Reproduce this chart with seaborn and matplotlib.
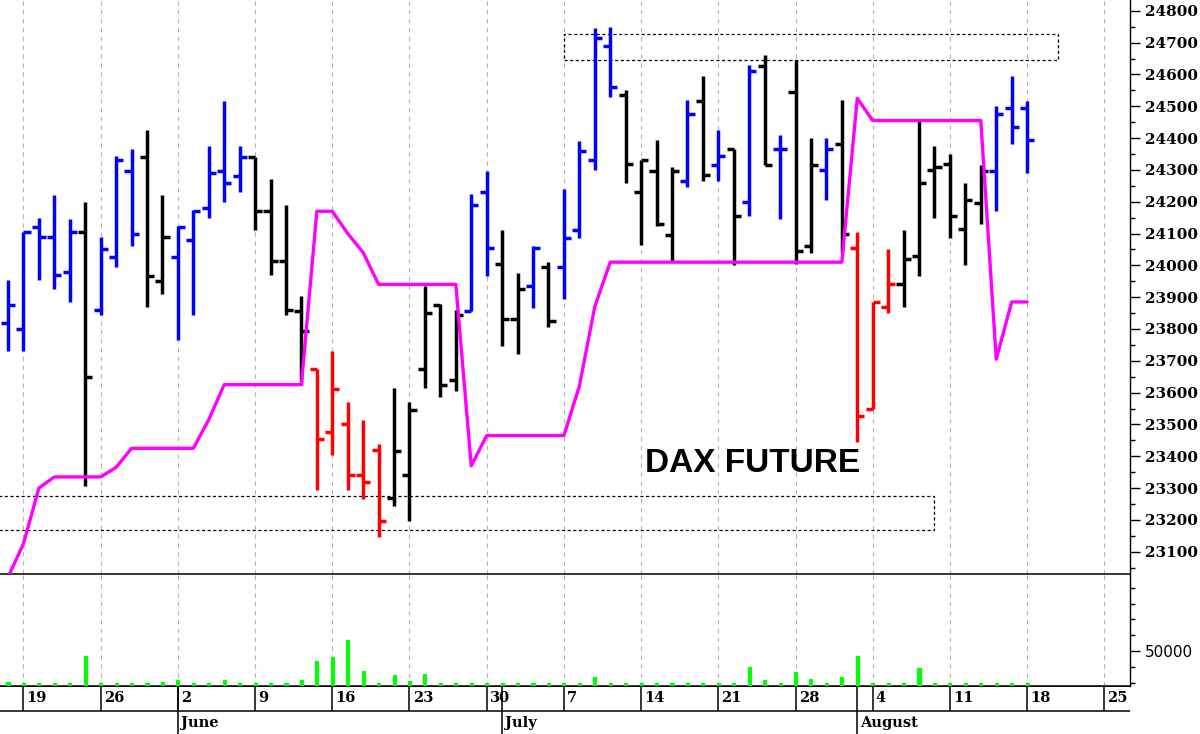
import numpy as np
import pandas as pd
import matplotlib
matplotlib.use("Agg")
import matplotlib.pyplot as plt
import seaborn as sns
from matplotlib.patches import Rectangle
from matplotlib.ticker import MultipleLocator, FixedLocator

# ---------------- data ----------------
dates = pd.bdate_range("2025-05-16", "2025-08-18")          # 67 trading days
axis_days = pd.bdate_range("2025-05-16", "2025-08-29")      # axis extends past data

opens = [23820, 23800, 24120, 24090, 23980, 24105, 23860, 24025, 24295, 24340,
         23950, 24025, 24080, 24180, 24295, 24280, 24340, 24170, 24015, 23855,
         23675, 23475, 23500, 23340, 23420, 23270, 23340, 23675, 23875, 23640,
         23855, 24230, 24005, 23830, 23935, 23995, 23995, 24110, 24330, 24690,
         24535, 24230, 24295, 24095, 24265, 24515, 24315, 24365, 24200, 24625,
         24365, 24545, 24060, 24300, 24380, 24055, 23550, 23870, 23940, 24030,
         24300, 24320, 24115, 24195, 24295, 24495, 24495]
highs = [23955, 24105, 24150, 24220, 24145, 24200, 24090, 24345, 24365, 24425,
         24220, 24125, 24175, 24375, 24515, 24375, 24340, 24270, 24190, 23905,
         23675, 23730, 23570, 23515, 23440, 23615, 23570, 23935, 23880, 23860,
         24225, 24295, 24110, 23975, 24060, 24010, 24240, 24390, 24745, 24750,
         24550, 24330, 24395, 24310, 24520, 24595, 24425, 24365, 24630, 24660,
         24410, 24645, 24400, 24400, 24520, 24105, 23885, 24050, 24110, 24460,
         24375, 24350, 24260, 24315, 24500, 24595, 24515]
lows = [23730, 23730, 23955, 23925, 23885, 23305, 23845, 23995, 24060, 23870,
        23910, 23765, 23845, 24150, 24200, 24230, 24110, 23970, 23845, 23625,
        23295, 23405, 23295, 23265, 23145, 23245, 23195, 23615, 23585, 23605,
        23855, 23965, 23745, 23720, 23865, 23805, 23895, 24085, 24300, 24530,
        24260, 24065, 24125, 24015, 24245, 24265, 24265, 24000, 24155, 24315,
        24145, 24005, 24040, 24205, 24040, 23445, 23550, 23850, 23870, 23965,
        24150, 24085, 24000, 24130, 24170, 24380, 24290]
closes = [23875, 24105, 24090, 23970, 24105, 23650, 24050, 24330, 24100, 23965,
          24090, 24120, 24170, 24290, 24260, 24340, 24170, 24015, 23860, 23795,
          23455, 23610, 23340, 23320, 23195, 23415, 23545, 23850, 23625, 23845,
          24190, 24055, 23830, 23925, 24055, 23825, 24085, 24360, 24715, 24560,
          24320, 24330, 24130, 24295, 24475, 24285, 24345, 24155, 24610, 24315,
          24365, 24045, 24315, 24365, 24100, 23525, 23885, 23940, 24020, 24260,
          24310, 24155, 24205, 24295, 24475, 24435, 24395]
bar_colors = ["blue", "blue", "blue", "blue", "blue", "black", "blue", "blue", "blue", "black",
              "black", "blue", "blue", "blue", "blue", "blue", "black", "black", "black", "black",
              "red", "red", "red", "red", "red", "black", "black", "black", "black", "black",
              "blue", "blue", "black", "black", "blue", "black", "blue", "blue", "blue", "blue",
              "black", "black", "black", "black", "blue", "black", "blue", "black", "blue", "black",
              "blue", "black", "black", "blue", "black", "red", "red", "red", "black", "black",
              "black", "black", "black", "black", "blue", "blue", "blue"]
stop_line = [23020, 23125, 23300, 23335, 23335, 23335, 23335, 23365, 23425, 23425,
             23425, 23425, 23425, 23515, 23625, 23625, 23625, 23625, 23625, 23625,
             24170, 24170, 24100, 24040, 23940, 23940, 23940, 23940, 23940, 23940,
             23370, 23465, 23465, 23465, 23465, 23465, 23465, 23620, 23870, 24010,
             24010, 24010, 24010, 24010, 24010, 24010, 24010, 24010, 24010, 24010,
             24010, 24010, 24010, 24010, 24010, 24525, 24455, 24455, 24455, 24455,
             24455, 24455, 24455, 24455, 23705, 23885, 23885]
volumes = [30530, 29500, 29500, 29500, 29500, 46820, 29500, 29500, 29500, 29500,
           30340, 31600, 29500, 29500, 31600, 29500, 29500, 29500, 29900, 31600,
           43650, 46190, 56960, 37310, 29500, 34770, 30970, 35410, 29500, 29500,
           29500, 29500, 29500, 29500, 29500, 29500, 29500, 29500, 33510, 29500,
           29900, 29500, 29500, 29500, 29500, 29500, 29500, 29500, 39850, 31600,
           29500, 36680, 32240, 29500, 33510, 46820, 29900, 29500, 29500, 39210,
           29500, 29500, 29500, 29500, 29500, 29500, 29500]

week_labels = ["19", "26", "2", "9", "16", "23", "30", "7", "14", "21", "28", "4", "11", "18", "25"]
month_labels = ["June", "July", "August"]
month_starts = ["2025-06-02", "2025-07-01", "2025-08-01"]
price_ticks = list(range(23100, 24801, 100))
volume_tick = [50000]

resistance_zone = {"start": "2025-07-07", "end": "2025-08-20", "low": 24646, "high": 24728}
support_zone = {"start": "2025-05-14", "end": "2025-08-08", "low": 23168, "high": 23274}

# ---------------- helpers ----------------
def pos(d):
    t = pd.Timestamp(d)
    if t in axis_days:
        return float(axis_days.get_loc(t))
    return (t - axis_days[0]).days * 5 / 7

x = np.array([pos(d) for d in dates], dtype=float)
mondays = [i for i, d in enumerate(axis_days) if d.weekday() == 0]
month_pos = [pos(d) for d in month_starts]

sns.set_style("white")
plt.rcParams["font.family"] = ["DejaVu Sans"]
plt.rcParams["text.color"] = "black"
plt.rcParams["axes.edgecolor"] = "black"
plt.rcParams["xtick.color"] = "black"
plt.rcParams["ytick.color"] = "black"

W, H = 1200, 734
fig = plt.figure(figsize=(W / 100, H / 100), dpi=100)
axr = 1129.5 / W
axd = fig.add_axes([0, 0, axr, (H - 686) / H])
axv = fig.add_axes([0, (H - 686) / H, axr, (686 - 574.3) / H], sharex=axd)
ax = fig.add_axes([0, (H - 574.3) / H, axr, 574.3 / H], sharex=axd)
for a in (ax, axv, axd):
    a.set_facecolor("none")

XL = (-0.52, 72.63)
ax.set_xlim(*XL)
ax.set_ylim(23029, 24834)
axv.set_ylim(27800, 98640)
axd.set_ylim(0, 48)

grid_kw = dict(color="#b4b4b4", lw=0.8, ls=(0, (4, 4)), zorder=0)
for m in mondays:
    ax.axvline(m, **grid_kw)
    axv.axvline(m, **grid_kw)

# OHLC bars
tick_len = 0.46
ax.vlines(x, lows, highs, colors=bar_colors, lw=2.5, zorder=3)
ax.hlines(opens, x - tick_len, x, colors=bar_colors, lw=2.5, zorder=3)
ax.hlines(closes, x, x + tick_len, colors=bar_colors, lw=2.5, zorder=3)

# trailing stop line
sns.lineplot(x=x, y=stop_line, ax=ax, color="#FF00FF", lw=2.4, sort=False,
             estimator=None, zorder=4)

# zones
for z in (resistance_zone, support_zone):
    x0 = pos(z["start"])
    x1 = pos(z["end"])
    ax.add_patch(Rectangle((x0, z["low"]), x1 - x0, z["high"] - z["low"], fill=False,
                           ec="black", lw=0.9, ls=(0, (2.5, 2)), zorder=2))

ax.text(753 / 1129.5, 1 - 464 / 574.3, "DAX FUTURE", transform=ax.transAxes,
        ha="center", va="center", fontsize=24, fontweight="bold", color="black",
        family=["Liberation Sans", "DejaVu Sans"], zorder=5)

# volume
axv.bar(x, volumes, width=0.2, color="#00FF00", edgecolor="#00FF00", lw=0.8, zorder=3)

# spines / ticks
for a in (ax, axv):
    a.spines["left"].set_visible(False)
    a.spines["top"].set_visible(False)
    a.spines["right"].set_color("black")
    a.spines["right"].set_linewidth(1.0)
    a.spines["bottom"].set_color("black")
    a.spines["bottom"].set_linewidth(1.1)
    a.tick_params(axis="x", bottom=False, labelbottom=False)
    a.yaxis.tick_right()
    a.tick_params(axis="y", which="major", length=7, width=1, pad=4, colors="black")
    a.tick_params(axis="y", which="minor", length=3.5, width=1, colors="black")
    a.set_xlabel("")
    a.set_ylabel("")

ax.yaxis.set_major_locator(FixedLocator(price_ticks))
ax.yaxis.set_minor_locator(MultipleLocator(50))
ax.set_yticklabels([str(t) for t in price_ticks], family=["DejaVu Serif"],
                   fontweight="bold", fontsize=11, color="black")

axv.yaxis.set_major_locator(FixedLocator(volume_tick))
axv.yaxis.set_minor_locator(FixedLocator([30000, 40000, 60000, 70000, 80000, 90000]))
axv.set_yticklabels([str(t) for t in volume_tick], family=["DejaVu Sans"], fontsize=11,
                    color="black")

# date rows
for s in axd.spines.values():
    s.set_visible(False)
axd.tick_params(axis="both", which="both", left=False, bottom=False,
                labelleft=False, labelbottom=False)
axd.axhline(23, color="black", lw=1.1)
axd.axhline(47.6, color="black", lw=1.1)
for m, lab in zip(mondays, week_labels):
    axd.vlines(m, 23, 48, color="black", lw=1.1)
    axd.text(m + 0.2, 35.5, lab, ha="left", va="center", fontsize=10.5,
             fontweight="bold", family=["DejaVu Serif"], color="black")
for mp, lab in zip(month_pos, month_labels):
    axd.vlines(mp, 0, 48, color="black", lw=1.1)
    axd.text(mp + 0.2, 11.5, lab, ha="left", va="center", fontsize=10.5,
             fontweight="bold", family=["DejaVu Serif"], color="black")
axd.set_xlim(*XL)

fig.savefig("out.png", dpi=100)
